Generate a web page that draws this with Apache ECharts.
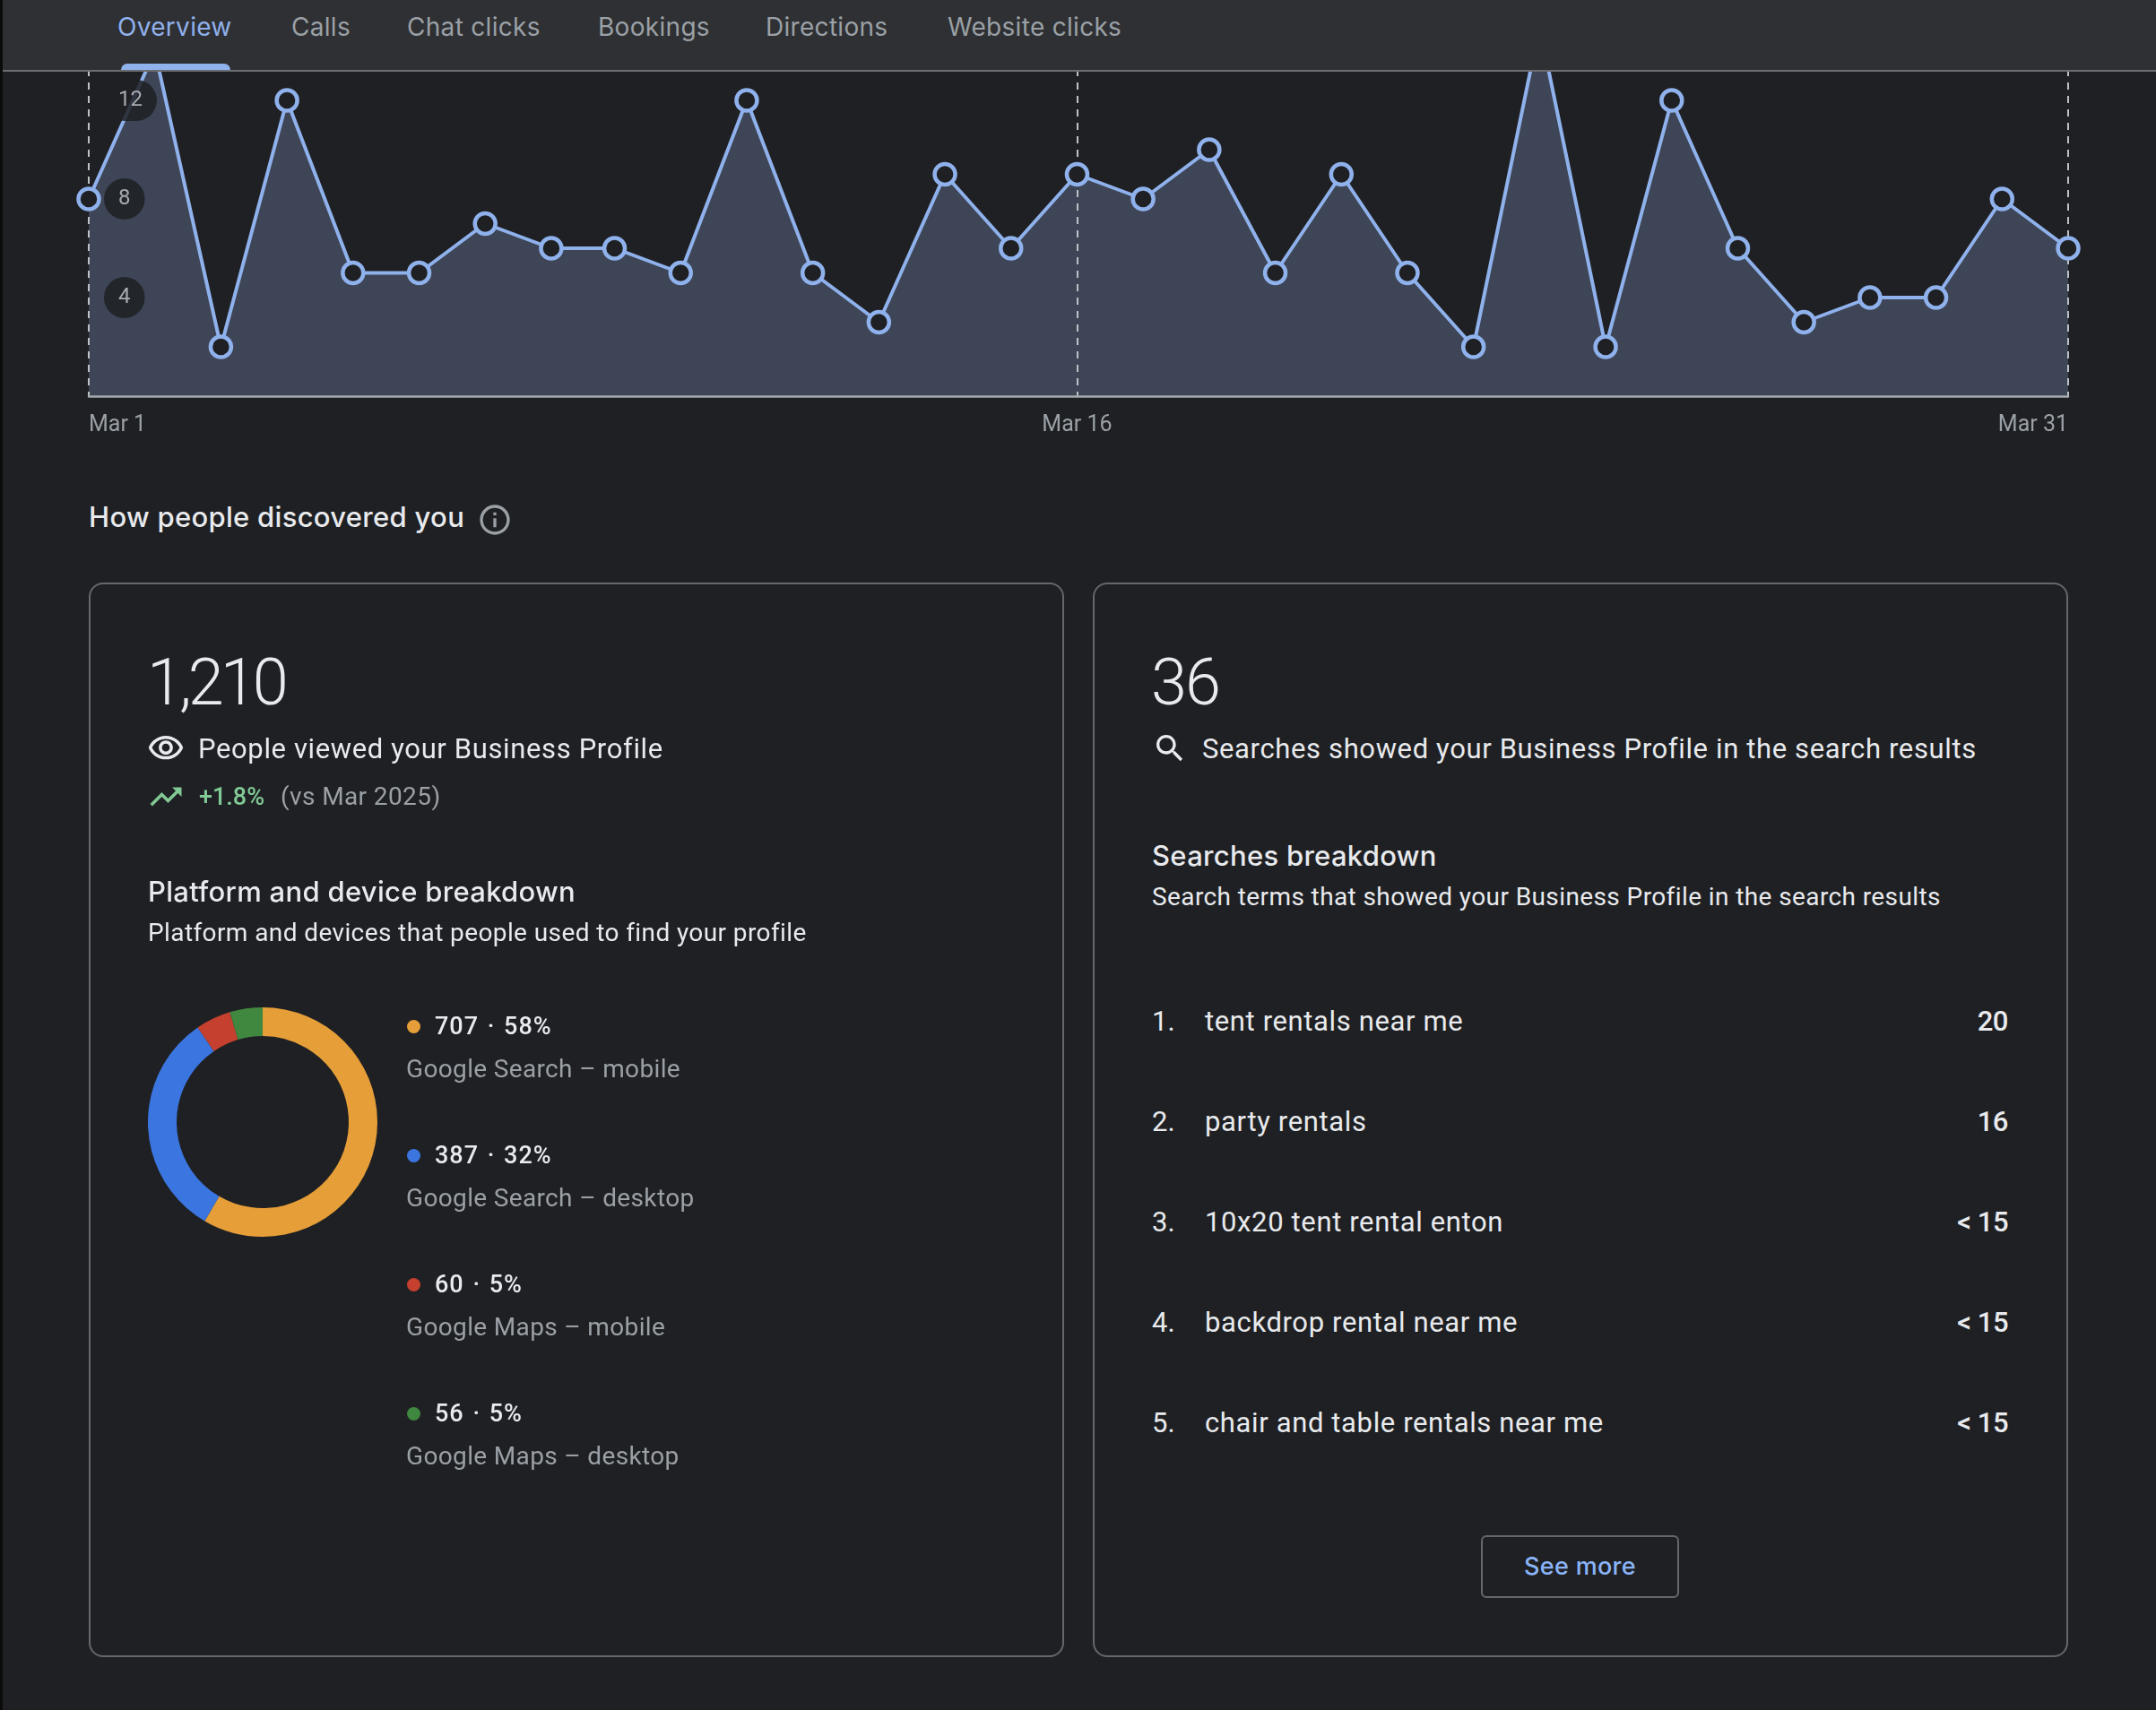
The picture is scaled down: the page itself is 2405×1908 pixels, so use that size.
<!DOCTYPE html>
<html>
<head>
<meta charset="utf-8">
<script src="https://cdn.jsdelivr.net/npm/echarts@6/dist/echarts.min.js"></script>
<style>
  html, body { margin: 0; padding: 0; background: #1f2023; }
  #page { position: relative; width: 2405px; height: 1908px; overflow: hidden; background: #1f2023;
    font-family: Roboto, sans-serif; color: #e8eaed; }
  #page > div, #page > svg { position: absolute; }
  .t { white-space: nowrap; transform: translateY(-50%); line-height: 1.2; }
  .strip { left: 0; top: 0; width: 3px; height: 1908px; background: #0b0b0c; z-index: 20; }
  .head { left: 0; top: 0; width: 2405px; height: 78px; background: #2f3033; border-bottom: 2px solid #6c6d70; z-index: 10; }
  .tab { font-family: Inter, sans-serif; font-size: 28px; letter-spacing: .3px; color: #9aa0a6; z-index: 11; }
  .ink { left: 135px; top: 71px; width: 122px; height: 7px; background: #8fb1ec; border-radius: 7px 7px 0 0; z-index: 11; }
  .card { border: 2px solid #66676a; border-radius: 16px; box-sizing: border-box; }
  .big { font-size: 72px; font-weight: 300; }
  .lead { font-size: 31px; letter-spacing: .63px; }
  .sub { font-size: 28px; letter-spacing: .4px; }
  .h2 { font-family: Inter, sans-serif; font-size: 31px; font-weight: 500; letter-spacing: .3px; }
  .grey { color: #9aa0a6; }
  .dot { width: 15px; height: 15px; border-radius: 50%; }
  .btn { left: 1652px; top: 1713px; width: 221px; height: 70px; border: 2px solid #66676a; border-radius: 6px; box-sizing: border-box; }
</style>
</head>
<body>
<div id="page">
  <div id="lineChart" style="left:0;top:0;width:2405px;height:500px"></div>
  <div id="donutChart" style="left:153px;top:1112px;width:280px;height:280px"></div>
  <div class="strip"></div>
  <div class="head"></div>
  <div class="ink"></div>

  <div class="t h2" style="left:99px;top:577px">How people discovered you</div>
  <svg style="left:532px;top:560px" width="40" height="40" viewBox="0 0 24 24" fill="#9aa0a6"><path d="M11 7h2v2h-2zm0 4h2v6h-2zm1-9C6.48 2 2 6.48 2 12s4.48 10 10 10 10-4.48 10-10S17.52 2 12 2zm0 18c-4.41 0-8-3.59-8-8s3.59-8 8-8 8 3.59 8 8-3.59 8-8 8z"/></svg>

  <div class="card" style="left:99px;top:650px;width:1088px;height:1199px"></div>
  <div class="card" style="left:1219px;top:650px;width:1088px;height:1199px"></div>

  <div class="t big" style="left:164px;top:762px;letter-spacing:-4px">1,210</div>
  <svg style="left:164px;top:814px" width="42" height="42" viewBox="0 0 24 24" fill="#e8eaed"><path d="M12 6c3.79 0 7.17 2.13 8.82 5.5C19.17 14.87 15.79 17 12 17s-7.17-2.13-8.82-5.5C4.83 8.13 8.21 6 12 6m0-2C7 4 2.73 7.11 1 11.5 2.73 15.89 7 19 12 19s9.27-3.11 11-7.5C21.27 7.11 17 4 12 4zm0 5c1.38 0 2.5 1.12 2.5 2.5S13.38 14 12 14s-2.5-1.12-2.5-2.5S10.62 9 12 9m0-2c-2.48 0-4.5 2.02-4.5 4.5S9.52 16 12 16s4.5-2.02 4.5-4.5S14.48 7 12 7z"/></svg>
  <div class="t lead" style="left:221px;top:836px">People viewed your Business Profile</div>
  <svg style="left:164px;top:868px" width="42" height="42" viewBox="0 0 24 24" fill="#81c995"><path d="M16 6l2.29 2.29-4.88 4.88-4-4L2 16.59 3.41 18l6-6 4 4 6.3-6.29L22 12V6z"/></svg>
  <div class="t" style="left:222px;top:889px;font-size:27px;font-weight:500;color:#81c995">+1.8%</div>
  <div class="t sub grey" style="left:313px;top:889px">(vs Mar 2025)</div>
  <div class="t h2" style="left:165px;top:995px">Platform and device breakdown</div>
  <div class="t sub" style="left:165px;top:1041px">Platform and devices that people used to find your profile</div>

  <div class="t big" style="left:1284px;top:762px;letter-spacing:-2px">36</div>
  <svg style="left:1285px;top:815px" width="40" height="40" viewBox="0 0 24 24" fill="#e8eaed"><path d="M15.5 14h-.79l-.28-.27C15.41 12.59 16 11.11 16 9.5 16 5.91 13.09 3 9.5 3S3 5.91 3 9.5 5.91 16 9.5 16c1.61 0 3.09-.59 4.23-1.57l.27.28v.79l5 4.99L20.49 19l-4.99-5zm-6 0C7.01 14 5 11.99 5 9.5S7.01 5 9.5 5 14 7.01 14 9.5 11.99 14 9.5 14z"/></svg>
  <div class="t lead" style="left:1341px;top:836px">Searches showed your Business Profile in the search results</div>
  <div class="t h2" style="left:1285px;top:955px">Searches breakdown</div>
  <div class="t sub" style="left:1285px;top:1001px">Search terms that showed your Business Profile in the search results</div>

  <div class="btn"></div>
  <div class="t" style="left:1652px;width:221px;top:1748px;text-align:center;font-family:Inter,sans-serif;font-size:27px;font-weight:500;letter-spacing:.3px;color:#8ab4f8">See more</div>
</div>

<script>
// tab bar
let tabNames = ["Overview", "Calls", "Chat clicks", "Bookings", "Directions", "Website clicks"];
let tabLeft = [131, 325, 454, 667, 854, 1057];

// daily views, Mar 1 - Mar 31
let dayValues = [8, 14, 2, 12, 5, 5, 7, 6, 6, 5, 12, 5, 3, 9, 6, 9, 8, 10, 5, 9, 5, 2, 15, 2, 12, 6, 3, 4, 4, 8, 6];
// hours since Mar 1, the clocks change after Mar 8 so that day is 23 hours
let dayHours = [0, 24, 48, 72, 96, 120, 144, 168, 191, 215, 239, 263, 287, 311, 335, 359,
  383, 407, 431, 455, 479, 503, 527, 551, 575, 599, 623, 647, 671, 695, 719];
let xTickHours = [0, 359, 719];
let xTickLabels = ["Mar 1", "Mar 16", "Mar 31"];
let yTicks = [4, 8, 12];

// platform breakdown
let platformNames = ["Google Search – mobile", "Google Search – desktop", "Google Maps – mobile", "Google Maps – desktop"];
let platformValues = [707, 387, 60, 56];
let platformShares = ["58%", "32%", "5%", "5%"];
let platformColors = ["#e59e38", "#3b76e0", "#c5402f", "#40873f"];

// search terms
let searchTerms = ["tent rentals near me", "party rentals", "10x20 tent rental enton", "backdrop rental near me", "chair and table rentals near me"];
let searchCounts = ["20", "16", "< 15", "< 15", "< 15"];

let page = document.getElementById("page");

// adds one absolutely placed text, vertically centred on top
let addText = function(text, left, top, style) {
  let el = document.createElement("div");
  el.className = "t";
  el.textContent = text;
  el.style.cssText = "left:" + left + "px;top:" + top + "px;" + style;
  page.appendChild(el);
  return el;
}

tabNames.forEach(function(name, i) {
  let el = addText(name, tabLeft[i], 31, "");
  el.className = "t tab";
  if (i == 0) el.style.color = "#8fb1ec";
});

platformNames.forEach(function(name, i) {
  let rowTop = 1145 + i * 144;
  let dot = document.createElement("div");
  dot.className = "dot";
  dot.style.cssText = "left:454px;top:" + (rowTop - 7) + "px;background:" + platformColors[i];
  page.appendChild(dot);
  addText(platformValues[i] + " · " + platformShares[i], 485, rowTop, "font-size:27px;font-weight:500;letter-spacing:1px;word-spacing:2px");
  addText(name, 453, rowTop + 48, "font-size:28px;letter-spacing:.35px;color:#9aa0a6");
});

searchTerms.forEach(function(term, i) {
  let rowTop = 1140 + i * 112;
  addText((i + 1) + ".", 1285, rowTop, "font-size:31px");
  addText(term, 1344, rowTop, "font-size:31px;letter-spacing:.63px");
  let count = addText(searchCounts[i], 0, rowTop, "font-size:31px;font-weight:500;letter-spacing:-.5px");
  count.style.left = "auto";
  count.style.right = (2405 - 2240) + "px";
});

// line chart, the top of it runs under the tab bar
let lineChart = echarts.init(document.getElementById("lineChart"));
let linePoints = dayHours.map(function(hour, i) { return [hour, dayValues[i]]; });
lineChart.setOption({
  animation: false,
  grid: { left: 99, right: 98, top: 2, height: 440 },
  xAxis: {
    type: "value",
    min: xTickHours[0],
    max: xTickHours[2],
    z: 2,
    axisLine: { lineStyle: { color: "#a7abaf", width: 2.5 } },
    axisTick: { show: false, customValues: xTickHours },
    axisLabel: {
      customValues: xTickHours,
      formatter: function(value) { return xTickLabels[xTickHours.indexOf(value)]; },
      color: "#9aa0a6",
      fontFamily: "Roboto",
      fontSize: 25,
      margin: 20,
      alignMinLabel: "left",
      alignMaxLabel: "right"
    },
    splitLine: {
      show: true,
      lineStyle: { color: "#bdc1c6", width: 2, type: [8, 7] }
    }
  },
  yAxis: {
    type: "value",
    min: 0,
    max: 16,
    interval: 4,
    z: 5,
    axisLine: { show: false },
    axisTick: { show: false },
    splitLine: { show: false },
    axisLabel: {
      inside: true,
      customValues: yTicks,
      margin: 17,
      color: "#a8abaf",
      fontFamily: "Roboto",
      fontSize: 24,
      backgroundColor: "rgba(31,33,36,0.85)",
      borderRadius: 23,
      padding: [12, 16, 10, 16]
    }
  },
  series: [
    { // fill only, stays under the dashed lines
      type: "line",
      data: linePoints,
      z: 1,
      silent: true,
      showSymbol: false,
      lineStyle: { width: 0 },
      areaStyle: { color: "rgba(150,178,235,0.26)", opacity: 1 }
    },
    {
      type: "line",
      data: linePoints,
      z: 3,
      symbol: "circle",
      symbolSize: 23,
      showAllSymbol: true,
      lineStyle: { color: "#8fb1ec", width: 4 },
      itemStyle: { color: "#1f2023", borderColor: "#8fb1ec", borderWidth: 4.5, opacity: 1 }
    }
  ]
});

// donut
let donutChart = echarts.init(document.getElementById("donutChart"));
donutChart.setOption({
  animation: false,
  series: [{
    type: "pie",
    radius: [96, 128],
    center: ["50%", "50%"],
    startAngle: 90,
    silent: true,
    label: { show: false },
    labelLine: { show: false },
    data: platformNames.map(function(name, i) {
      return { name: name, value: platformValues[i], itemStyle: { color: platformColors[i] } };
    })
  }]
});
</script>
</body>
</html>
